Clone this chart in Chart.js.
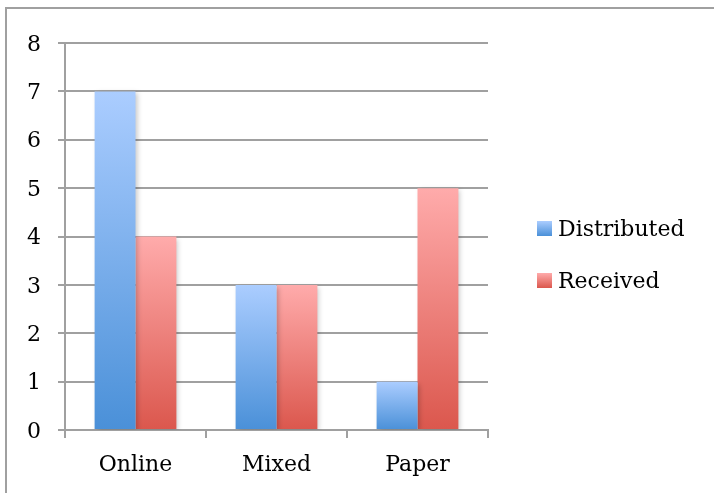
<!DOCTYPE html>
<html lang="en">

<head>
  <meta charset="UTF-8" />
  <title>Distributed vs Received</title>
  <script src="https://cdn.jsdelivr.net/npm/chart.js"></script>
  <style>
    html, body { margin: 0; padding: 0; background: #fff; overflow: hidden; }
    #frame {
      position: absolute; left: 5px; top: 7px; width: 720px; height: 500px;
      border-left: 2px solid #a0a0a0; border-top: 2px solid #a0a0a0;
    }
    #graficoEnvios { position: absolute; left: 0; top: 0; }
  </style>
</head>

<body>
  <div id="frame"></div>
  <canvas id="graficoEnvios" width="714" height="493"></canvas>

  <script>
    const categorias = ['Online', 'Mixed', 'Paper'];
    const distribuidos = [7, 3, 1];
    const recibidos = [4, 3, 5];
    const ticksY = [0, 1, 2, 3, 4, 5, 6, 7, 8];

    const FUENTE = '"DejaVu Serif", serif';

    // degradado vertical por barra, de claro arriba a oscuro abajo
    function degradado(claro, oscuro) {
      return (ctx) => {
        const chart = ctx.chart;
        if (!chart.chartArea || ctx.raw === undefined) return oscuro;
        const y = chart.scales.y;
        const top = y.getPixelForValue(ctx.raw);
        const base = y.getPixelForValue(0);
        const g = chart.ctx.createLinearGradient(0, top, 0, base);
        g.addColorStop(0, claro);
        g.addColorStop(1, oscuro);
        return g;
      };
    }

    const colores = [
      { claro: '#abcdff', oscuro: '#4a90d8' },
      { claro: '#ffabab', oscuro: '#db574d' }
    ];

    // sombra suave detrás de las barras
    const sombra = {
      id: 'sombra',
      beforeDatasetsDraw(chart) {
        const c = chart.ctx;
        c.save();
        c.shadowColor = 'rgba(0,0,0,0.22)';
        c.shadowBlur = 5;
        c.shadowOffsetX = 2;
        c.shadowOffsetY = 2;
      },
      afterDatasetsDraw(chart) {
        chart.ctx.restore();
      }
    };

    // leyenda a la derecha con cuadros en degradado
    const leyenda = {
      id: 'leyenda',
      afterDraw(chart) {
        const c = chart.ctx;
        c.save();
        chart.data.datasets.forEach((ds, i) => {
          const yc = 228 + i * 52;
          const g = c.createLinearGradient(0, yc - 7, 0, yc + 8);
          g.addColorStop(0, colores[i].claro);
          g.addColorStop(1, colores[i].oscuro);
          c.fillStyle = g;
          c.fillRect(537, yc - 7, 15, 15);
          c.fillStyle = '#000';
          c.font = '22px ' + FUENTE;
          c.textBaseline = 'middle';
          c.fillText(ds.label, 558, yc + 2);
        });
        c.restore();
      }
    };

    const ctxEnvios = document.getElementById('graficoEnvios').getContext('2d');
    new Chart(ctxEnvios, {
      type: 'bar',
      data: {
        labels: categorias,
        datasets: [
          {
            label: 'Distributed',
            data: distribuidos,
            backgroundColor: degradado(colores[0].claro, colores[0].oscuro)
          },
          {
            label: 'Received',
            data: recibidos,
            backgroundColor: degradado(colores[1].claro, colores[1].oscuro)
          }
        ]
      },
      options: {
        responsive: false,
        animation: false,
        layout: { padding: { top: 43, right: 226, left: 0, bottom: 0 } },
        datasets: { bar: { barPercentage: 1, categoryPercentage: 0.58 } },
        plugins: {
          legend: { display: false },
          tooltip: { enabled: false }
        },
        scales: {
          x: {
            afterFit: (s) => { s.height = 63; },
            grid: {
              offset: true,
              drawOnChartArea: false,
              color: '#a0a0a0',
              lineWidth: 2,
              tickLength: 8
            },
            border: { color: '#a0a0a0', width: 2 },
            ticks: { color: '#000', font: { family: FUENTE, size: 22 }, padding: 14 }
          },
          y: {
            min: 0,
            max: 8,
            afterFit: (s) => { s.width = 65; },
            afterBuildTicks: (s) => { s.ticks = ticksY.map(v => ({ value: v })); },
            grid: { color: '#a0a0a0', lineWidth: 2, tickLength: 7 },
            border: { color: '#a0a0a0', width: 2 },
            ticks: { color: '#000', font: { family: FUENTE, size: 22 }, padding: 17, labelOffset: 2 }
          }
        }
      },
      plugins: [sombra, leyenda]
    });
  </script>
</body>

</html>
